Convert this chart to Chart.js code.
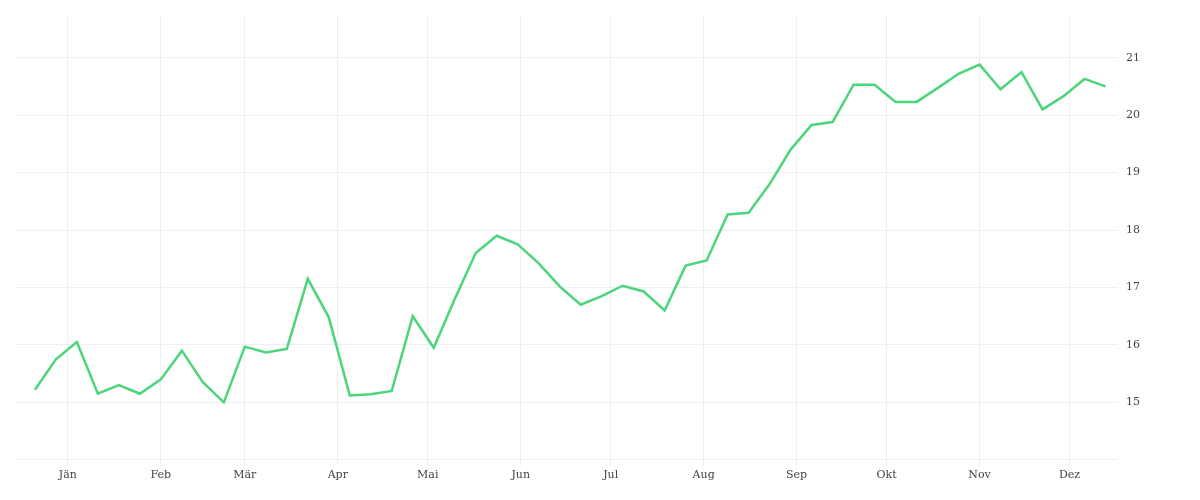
<!DOCTYPE html>
<html><head><meta charset="utf-8">
<script src="https://cdn.jsdelivr.net/npm/chart.js@4"></script>
<style>html,body{margin:0;padding:0;background:#fff}#w{width:1200px;height:500px}</style>
</head><body><div id="w"><canvas id="c"></canvas></div>
<script>
const monthLabels=["Jän","Feb","Mär","Apr","Mai","Jun","Jul","Aug","Sep","Okt","Nov","Dez"];
const monthStarts=[0,31,59,90,120,151,181,212,243,273,304,334];
const weekDays=[-11,-4,3,10,17,24,31,38,45,52,59,66,73,80,87,94,101,108,115,122,129,136,143,150,157,164,171,178,185,192,199,206,213,220,227,234,241,248,255,262,269,276,283,290,297,304,311,318,325,332,339,346];
const values=[15.22,15.75,16.05,15.15,15.3,15.15,15.4,15.9,15.35,15.0,15.97,15.87,15.93,17.15,16.48,15.12,15.14,15.2,16.5,15.95,16.8,17.6,17.9,17.75,17.42,17.02,16.7,16.85,17.03,16.93,16.6,17.38,17.47,18.27,18.3,18.8,19.4,19.83,19.88,20.53,20.53,20.23,20.23,20.47,20.72,20.88,20.45,20.75,20.1,20.33,20.63,20.5];
const font={family:"DejaVu Serif",size:11};
new Chart(document.getElementById('c'),{
 type:'line',
 data:{datasets:[{data:weekDays.map((d,i)=>({x:d,y:values[i]})),borderColor:'#4cd57a',borderWidth:2.5,pointRadius:0,tension:0,fill:false}]},
 options:{responsive:true,maintainAspectRatio:false,animation:false,
  layout:{padding:{left:16,top:12,right:0,bottom:15}},
  plugins:{legend:{display:false},tooltip:{enabled:false}},
  scales:{
   x:{type:'linear',min:-17.3,max:347.5,
    afterBuildTicks:a=>{a.ticks=monthStarts.map(v=>({value:v}));},
    ticks:{autoSkip:false,maxRotation:0,color:'#444',font,callback:(v)=>monthLabels[monthStarts.indexOf(v)]},
    grid:{color:'#eeeeee',drawTicks:true,tickLength:6},border:{display:false}},
   y:{position:'right',min:14,max:21.75,
    afterBuildTicks:a=>{a.ticks=[14,15,16,17,18,19,20,21].map(v=>({value:v}));},
    afterFit:a=>{a.width=90;},
    ticks:{color:'#444',font,padding:8,callback:v=>v===14?'':v},
    grid:{color:'#eeeeee',drawTicks:true,tickLength:8},border:{display:false}}
  }}
});
</script></body></html>
